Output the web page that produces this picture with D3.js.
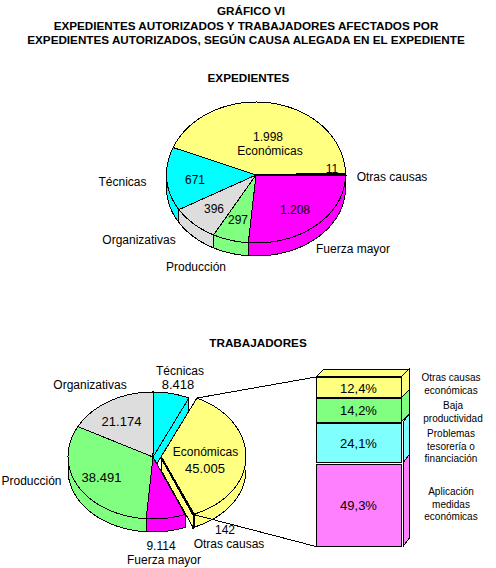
<!DOCTYPE html>
<html>
<head>
<meta charset="utf-8">
<script src="https://cdn.jsdelivr.net/npm/d3@7"></script>
<style>
html, body { margin: 0; background: #fff; }
svg { display: block; }
text { font-family: "Liberation Sans", Arial, sans-serif; font-size: 12px; fill: #000; }
.title { font-weight: bold; font-size: 11.7px; }
.edge { stroke: #000; stroke-width: 1; shape-rendering: crispEdges; }
</style>
</head>
<body>
<svg></svg>
<script>
const width = 496;
const height = 568;

const titleLines = ["GRÁFICO VI", "EXPEDIENTES AUTORIZADOS Y TRABAJADORES AFECTADOS POR", "EXPEDIENTES AUTORIZADOS, SEGÚN CAUSA ALEGADA EN EL EXPEDIENTE"];

const causes = ["Fuerza mayor", "Producción", "Organizativas", "Técnicas", "Económicas", "Otras causas"];
const expedientes = [1208, 297, 396, 671, 1998, 11];
const trabajadores = [9114, 38491, 21174, 8418, 45005, 142];
const pieColors = ["#ff00ff", "#80ff80", "#dddddd", "#00ffff", "#ffff80", "#ffff80"];

const barLabels = [
    ["Aplicación", "medidas", "económicas"],
    ["Problemas", "tesorería o", "financiación"],
    ["Baja", "productividad"],
    ["Otras causas", "económicas"]
];
const barValues = [49.3, 24.1, 14.2, 12.4];
const barColors = ["#ff80ff", "#80ffff", "#80ff80", "#ffff80"];

const svg = d3.select("svg")
    .attr("width", width)
    .attr("height", height);

// spanish number format, 1.998
const fmt = d3.formatLocale({ decimal: ",", thousands: ".", grouping: [3], currency: ["", ""] }).format(",");

titleLines.forEach((t, i) => {
    svg.append("text").attr("class", "title")
        .attr("x", i === 0 ? 251 : 246).attr("y", 15 + i * 14.5)
        .attr("text-anchor", "middle").text(t);
});

function drawPie(values, o) {
    const slices = d3.pie().sort(null).startAngle(o.start).endAngle(o.start + 2 * Math.PI)(values);
    slices.forEach((s, i) => { s.color = pieColors[i]; s.shift = o.exploded.includes(i) ? o.shift : 0; });

    // the tip is not in the middle of the ellipse, back half is a bit taller
    const rim = (a, dx, dy) => [o.cx + dx + o.rx * Math.sin(a), o.cy + dy - (Math.cos(a) > 0 ? o.ryBack : o.ryFront) * Math.cos(a)];
    const line = d3.line();
    const arcPoints = (a0, a1, dx, dy) => d3.range(0, 61).map(k => rim(a0 + (a1 - a0) * k / 60, dx, dy));
    const tiny = s => s.endAngle - s.startAngle < 0.05;

    const drawWalls = s => {
        const dx = s.shift;
        // outer wall, only the part facing the viewer
        [0, 2 * Math.PI].forEach(turn => {
            const lo = Math.max(s.startAngle, Math.PI / 2 + turn);
            const hi = Math.min(s.endAngle, 3 * Math.PI / 2 + turn);
            if (hi > lo) {
                const top = arcPoints(lo, hi, dx, 0);
                const bottom = arcPoints(hi, lo, dx, o.depth);
                svg.append("path").attr("class", "edge").attr("fill", s.color)
                    .style("stroke-width", tiny(s) ? 2 : 1)
                    .attr("d", line(top.concat(bottom)) + "Z");
            }
        });
        // radial walls, seen when the next slice moved away
        const prev = slices[(slices.indexOf(s) + slices.length - 1) % slices.length];
        const next = slices[(slices.indexOf(s) + 1) % slices.length];
        [[s.startAngle, -1, prev], [s.endAngle, 1, next]].forEach(([a, side, other]) => {
            const faces = Math.cos(a + side * Math.PI / 2) < 0;
            if (faces && other.shift !== s.shift) {
                const tip = [o.cx + dx, o.cy];
                const p = rim(a, dx, 0);
                svg.append("path").attr("class", "edge").attr("fill", s.color)
                    .attr("d", line([tip, p, [p[0], p[1] + o.depth], [tip[0], tip[1] + o.depth]]) + "Z");
            }
        });
    };
    const drawTop = s => {
        svg.append("path").attr("class", "edge").attr("fill", tiny(s) ? "#000" : s.color)
            .style("stroke-width", tiny(s) ? 2 : 1)
            .attr("d", line([[o.cx + s.shift, o.cy]].concat(arcPoints(s.startAngle, s.endAngle, s.shift, 0))) + "Z");
    };

    const still = slices.filter(s => s.shift === 0);
    const moved = slices.filter(s => s.shift !== 0);
    still.forEach(drawWalls);
    still.forEach(drawTop);
    moved.forEach(drawWalls);
    moved.forEach(drawTop);
    return { slices, rim };
}

const label = (x, y, t) => svg.append("text").attr("x", x).attr("y", y).attr("text-anchor", "middle").text(t);
const bigLabel = (x, y, t) => label(x, y, t).style("font-size", "13px");

// EXPEDIENTES
label(248.5, 82, "EXPEDIENTES").attr("class", "title");
drawPie(expedientes, {
    cx: 256, cy: 175, rx: 89.5, ryBack: 73, ryFront: 68, depth: 13,
    start: Math.PI / 2, exploded: [], shift: 0
});
label(268, 141, fmt(expedientes[4]));
label(270, 155, causes[4]);
label(332, 173, fmt(expedientes[5]));
label(392, 181, causes[5]);
label(295, 214, fmt(expedientes[0]));
label(195, 184, fmt(expedientes[3]));
label(214, 213, fmt(expedientes[2]));
label(238, 224, fmt(expedientes[1]));
label(122.5, 186, causes[3]);
label(139, 244, causes[2]);
label(353, 253, causes[0]);
label(196, 271, causes[1]);

// TRABAJADORES
label(258, 347, "TRABAJADORES").attr("class", "title");

const barX = 316, barW = 85, barDepth = 8;
const barY = d3.scaleLinear().domain([0, d3.sum(barValues)]).range([546.5, 377]);

const lower = drawPie(trabajadores, {
    cx: 153, cy: 457, rx: 85, ryBack: 65, ryFront: 62, depth: 13,
    start: 157.8 * Math.PI / 180, exploded: [4, 5], shift: 8
});

// connector lines from the exploded slice to the bar
svg.append("path").attr("class", "edge").attr("fill", "none")
    .attr("d", d3.line()([lower.rim(lower.slices[4].startAngle, 8, 0), [barX, barY(100)]]));
svg.append("path").attr("class", "edge").attr("fill", "none")
    .attr("d", d3.line()([lower.rim(lower.slices[5].endAngle, 8, 0), [barX, barY(0)]]));

label(180, 375, causes[3]);
bigLabel(178, 389, fmt(trabajadores[3]));
label(90, 389, causes[2]);
bigLabel(121.5, 426, fmt(trabajadores[2]));
label(31.5, 485, causes[1]);
bigLabel(101.5, 482, fmt(trabajadores[1]));
label(205.5, 456, causes[4]);
bigLabel(205, 473, fmt(trabajadores[4]));
label(225, 534, fmt(trabajadores[5]));
label(229, 548, causes[5]);
label(161, 550, fmt(trabajadores[0]));
label(164, 564, causes[0]);

// stacked bar, first baseline of each side note
const noteY = [495, 437, 409, 381];
const noteX = [451, 451, 453, 451];
let acc = 0;
barValues.forEach((v, i) => {
    const y0 = barY(acc), y1 = barY(acc + v);
    acc += v;
    const gap = i < 2 ? 2 : 0;
    svg.append("path").attr("class", "edge").attr("fill", barColors[i])
        .attr("d", d3.line()([[barX + barW + gap, y0], [barX + barW + barDepth, y0 - barDepth], [barX + barW + barDepth, y1 - barDepth], [barX + barW + gap, y1]]) + "Z");
    svg.append("rect").attr("class", "edge").attr("fill", barColors[i])
        .attr("x", barX).attr("y", y1 + (i < 2 ? 1.5 : 0)).attr("width", barW).attr("height", y0 - y1 - (i < 2 ? 1.5 : 0));
    bigLabel(barX + barW / 2, (y0 + y1) / 2 + 5, d3.format(".1f")(v).replace(".", ",") + "%");
    barLabels[i].forEach((t, k) => {
        label(noteX[i], noteY[i] + k * 12.5, t).style("font-size", "10px");
    });
});
// lid of the bar and the heavy line between the two upper parts
svg.append("path").attr("class", "edge").attr("fill", barColors[3])
    .attr("d", d3.line()([[barX, barY(100)], [barX + barDepth, barY(100) - barDepth], [barX + barW + barDepth, barY(100) - barDepth], [barX + barW, barY(100)]]) + "Z");
[barY(100), barY(d3.sum(barValues.slice(0, 3)))].forEach(y => {
    svg.append("path").attr("class", "edge").attr("fill", "none").style("stroke-width", 2)
        .attr("d", d3.line()([[barX, y], [barX + barW, y]]));
});
</script>
</body>
</html>
